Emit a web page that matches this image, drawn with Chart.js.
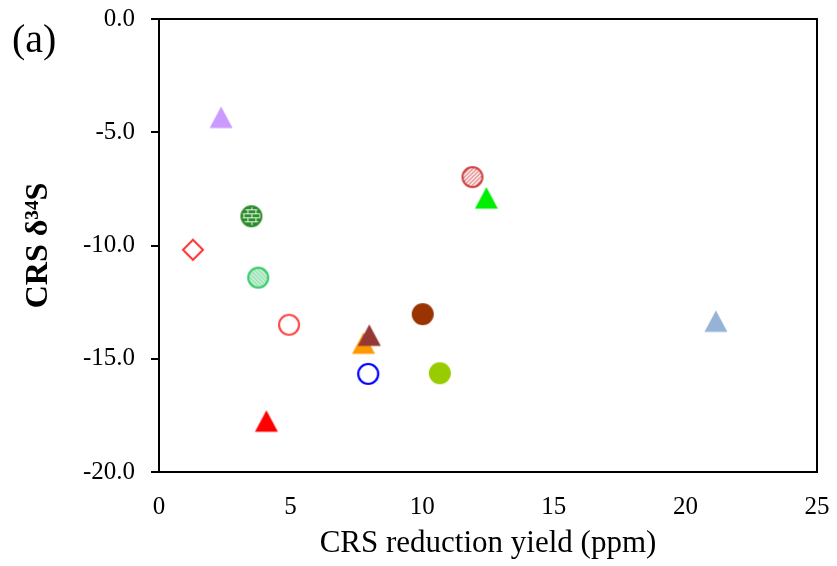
<!DOCTYPE html>
<html>
<head>
<meta charset="utf-8">
<script src="https://cdn.jsdelivr.net/npm/chart.js@4.4.0/dist/chart.umd.min.js"></script>
<style>
  html, body { margin: 0; padding: 0; background: #fff; }
</style>
</head>
<body>
<canvas id="crsChart" width="837" height="566"></canvas>
<script>
// values
const xYield  = [2.36, 11.91, 12.44, 3.51, 1.29, 3.77, 4.94, 10.02, 7.77, 7.99, 7.95, 10.67, 4.08, 21.16];
const yDelta  = [-4.35, -6.98, -7.91, -8.71, -10.19, -11.42, -13.5, -13.03, -14.32, -13.97, -15.67, -15.64, -17.76, -13.35];
const markerKinds  = ['triangle', 'hatchCircle', 'triangle', 'brickCircle', 'diamond', 'lightHatchCircle', 'ring', 'dot', 'triangle', 'triangle', 'ring', 'dot', 'triangle', 'triangle'];
const markerColors = ['#cc99ff', '#cc4444', '#00ee00', '#2b8a2b', '#ff3333', '#33cc66', '#ff4d4d', '#993300', '#ff9900', '#953735', '#0000ff', '#99cc00', '#ff0000', '#95b3d7'];
const xTicks = [0, 5, 10, 15, 20, 25];
const yTicks = [0, -5, -10, -15, -20];

const FONT = "'Liberation Serif', 'Times New Roman', serif";

function makeTile(draw, w, h) {
    const t = document.createElement('canvas');
    t.width = w; t.height = h;
    draw(t.getContext('2d'));
    return t;
}

function makeMarker(kind, color) {
    const s = 28;
    const c = document.createElement('canvas');
    c.width = s; c.height = s;
    const g = c.getContext('2d');
    const m = s / 2;

    const circle = (r) => { g.beginPath(); g.arc(m, m, r, 0, Math.PI * 2); };

    if (kind === 'triangle') {
        g.fillStyle = color;
        g.beginPath();
        g.moveTo(m, m - 11);
        g.lineTo(m + 11.5, m + 10.5);
        g.lineTo(m - 11.5, m + 10.5);
        g.closePath();
        g.fill();
    } else if (kind === 'diamond') {
        g.strokeStyle = color;
        g.lineWidth = 2;
        g.beginPath();
        g.moveTo(m, m - 10); g.lineTo(m + 10, m); g.lineTo(m, m + 10); g.lineTo(m - 10, m);
        g.closePath();
        g.stroke();
    } else if (kind === 'dot') {
        g.fillStyle = color;
        circle(11);
        g.fill();
    } else if (kind === 'ring') {
        g.strokeStyle = color;
        g.lineWidth = 2.2;
        circle(10);
        g.stroke();
    } else if (kind === 'hatchCircle') {
        const tile = makeTile(t => {
            t.fillStyle = '#fbe3e3'; t.fillRect(0, 0, 4, 4);
            t.strokeStyle = '#e06060'; t.lineWidth = 1;
            t.beginPath(); t.moveTo(0, 4); t.lineTo(4, 0); t.stroke();
        }, 4, 4);
        g.fillStyle = g.createPattern(tile, 'repeat');
        circle(10); g.fill();
        g.strokeStyle = color; g.lineWidth = 2;
        circle(10); g.stroke();
    } else if (kind === 'brickCircle') {
        const tile = makeTile(t => {
            t.fillStyle = '#2f8f2f'; t.fillRect(0, 0, 8, 8);
            t.fillStyle = '#e8f5e8';
            t.fillRect(0, 3, 8, 1); t.fillRect(0, 7, 8, 1);
            t.fillRect(2, 0, 1, 3); t.fillRect(6, 4, 1, 3);
        }, 8, 8);
        g.fillStyle = g.createPattern(tile, 'repeat');
        circle(10); g.fill();
        g.strokeStyle = color; g.lineWidth = 2;
        circle(10); g.stroke();
    } else if (kind === 'lightHatchCircle') {
        const tile = makeTile(t => {
            t.fillStyle = '#c4efd3'; t.fillRect(0, 0, 4, 4);
            t.strokeStyle = '#7fd9a0'; t.lineWidth = 1;
            t.beginPath(); t.moveTo(0, 0); t.lineTo(4, 4); t.stroke();
        }, 4, 4);
        g.fillStyle = g.createPattern(tile, 'repeat');
        circle(10); g.fill();
        g.strokeStyle = color; g.lineWidth = 2;
        circle(10); g.stroke();
    }
    return c;
}

const markers = markerKinds.map((k, i) => makeMarker(k, markerColors[i]));

// frame around the plot + "(a)" panel label
const framePlugin = {
    id: 'frame',
    afterDraw(chart) {
        const { ctx, chartArea: a } = chart;
        ctx.save();
        ctx.strokeStyle = '#000';
        ctx.lineWidth = 2;
        ctx.strokeRect(a.left, a.top, a.right - a.left, a.bottom - a.top);
        ctx.fillStyle = '#000';
        ctx.font = `40px ${FONT}`;
        ctx.textBaseline = 'alphabetic';
        ctx.fillText('(a)', 12, 52);
        ctx.restore();
    }
};

const ctx = document.getElementById('crsChart').getContext('2d');
const crsChart = new Chart(ctx, {
    type: 'scatter',
    data: {
        datasets: [{
            data: xYield.map((x, i) => ({ x: x, y: yDelta[i] })),
            pointStyle: markers,
            pointRadius: 11,
            pointHoverRadius: 11
        }]
    },
    options: {
        responsive: false,
        animation: false,
        events: [],
        layout: { padding: { top: 19, right: 20, left: 20, bottom: 4 } },
        plugins: {
            legend: { display: false },
            tooltip: { enabled: false }
        },
        scales: {
            x: {
                type: 'linear',
                min: 0,
                max: 25,
                afterBuildTicks: (scale) => { scale.ticks = xTicks.map(v => ({ value: v })); },
                afterFit: (scale) => {
                    scale.height = 566 - 472 - 4;
                    scale.paddingLeft = 0;
                    scale.paddingRight = 0;
                },
                grid: { display: false, drawTicks: false },
                border: { display: true, color: '#000', width: 2 },
                ticks: {
                    color: '#000',
                    padding: 20,
                    maxRotation: 0,
                    font: { family: FONT, size: 25 }
                },
                title: {
                    display: true,
                    text: 'CRS reduction yield (ppm)',
                    color: '#000',
                    padding: 0,
                    font: { family: FONT, size: 31 }
                }
            },
            y: {
                type: 'linear',
                min: -20,
                max: 0,
                afterBuildTicks: (scale) => { scale.ticks = yTicks.map(v => ({ value: v })); },
                afterFit: (scale) => {
                    scale.width = 159 - 20;
                    scale.paddingTop = 0;
                    scale.paddingBottom = 0;
                },
                grid: {
                    drawOnChartArea: false,
                    drawTicks: true,
                    tickLength: 8,
                    color: '#000',
                    lineWidth: 2
                },
                border: { display: true, color: '#000', width: 2 },
                ticks: {
                    color: '#000',
                    padding: 16,
                    callback: (v) => Number(v).toFixed(1),
                    font: { family: FONT, size: 25 }
                },
                title: {
                    display: true,
                    text: 'CRS δ³⁴S',
                    color: '#000',
                    padding: 0,
                    font: { family: FONT, size: 32, weight: 'bold' }
                }
            }
        }
    },
    plugins: [framePlugin]
});
</script>
</body>
</html>
